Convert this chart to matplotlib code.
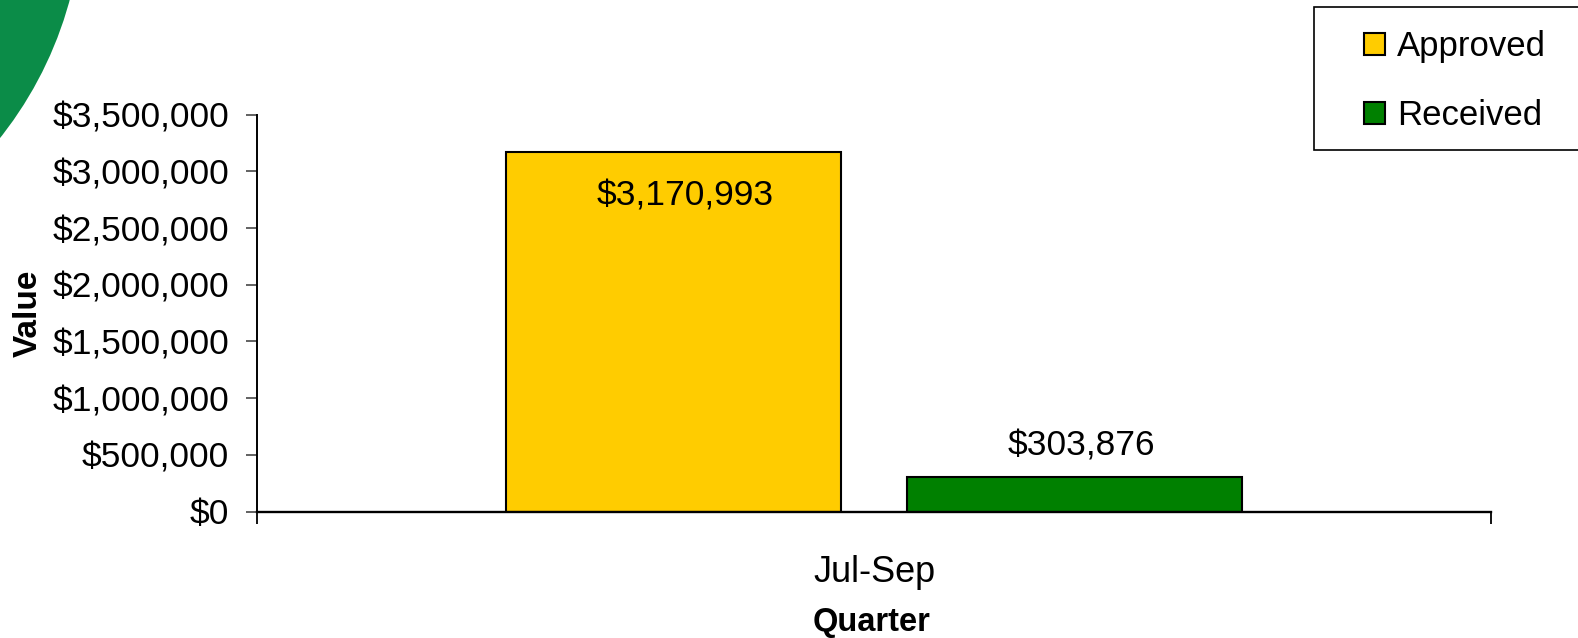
import matplotlib
matplotlib.use("Agg")
import matplotlib.pyplot as plt
from matplotlib.patches import Patch, Ellipse, Rectangle
from matplotlib.ticker import FuncFormatter

plt.rcParams['font.family'] = ['Liberation Sans', 'DejaVu Sans']

# quarterly totals
quarter = "Jul-Sep"
series = ["Approved", "Received"]
values = [3170993, 303876]
colors = ["#FFCC00", "#008000"]
offsets = [-0.1625, 0.1625]
bar_width = 0.2715

W, H = 1578, 638
fig = plt.figure(figsize=(W / 100, H / 100), dpi=100)
ax = fig.add_axes([257 / W, 1 - 511.5 / H, 1234 / W, 396.8 / H])

# green corner arc
fig.patches.append(Ellipse((-300 / W, 1 + 100 / H), 2 * 383 / W, 2 * 383 / H,
                           transform=fig.transFigure, facecolor="#0b8c48",
                           edgecolor="none", zorder=0))

bars = ax.bar(offsets, values, width=bar_width, color=colors,
              edgecolor="black", linewidth=1.5, zorder=2)

# value labels: inside the tall bar, above the short one
ax.annotate(f"${values[0]:,}", (offsets[0], values[0]), xytext=(8.5, -32),
            textcoords="offset points", ha="center", va="center", fontsize=25.5)
ax.annotate(f"${values[1]:,}", (offsets[1], values[1]), xytext=(5, 22.5),
            textcoords="offset points", ha="center", va="center", fontsize=25.5)

ax.set_xlim(-0.5, 0.5)
ax.set_ylim(0, 3500000)
ax.set_yticks(range(0, 3500001, 500000))
ax.yaxis.set_major_formatter(FuncFormatter(lambda v, p: f"${int(v):,}"))
ax.tick_params(axis="y", labelsize=25.5, length=8, width=1.3, pad=12, color="#555555")

# category boundary ticks, label sits in the middle
ax.set_xticks([-0.5, 0.5])
ax.set_xticklabels(["", ""])
ax.tick_params(axis="x", which="major", length=8.5, width=1.3, direction="out")
ax.set_xticks([0], minor=True)
ax.set_xticklabels([quarter], minor=True)
ax.tick_params(axis="x", which="minor", length=0, labelsize=26, pad=31)

for s in ["top", "right"]:
    ax.spines[s].set_visible(False)
ax.spines["left"].set_linewidth(1.4)
ax.spines["bottom"].set_linewidth(1.7)

fig.text(28 / W, 1 - 313 / H, "Value", rotation=90, ha="center", va="center",
         fontsize=24, fontweight="bold")
fig.text(872 / W, 1 - 623 / H, "Quarter", ha="center", va="center",
         fontsize=23.5, fontweight="bold")

# legend box running off the right edge
fig.patches.append(Rectangle((1314 / W, 1 - 150 / H), 0.3, 143 / H,
                             transform=fig.transFigure, facecolor="white",
                             edgecolor="black", linewidth=1.2, zorder=1))
handles = [Patch(facecolor=c, edgecolor="black", linewidth=1.5) for c in colors]
fig.legend(handles, series, loc="center left", bbox_to_anchor=(1347 / W, 1 - 81 / H),
           frameon=False, fontsize=25, handlelength=0.6, handleheight=0.6,
           handletextpad=0.35, labelspacing=1.05, borderpad=0)

fig.savefig("out.png", dpi=100)
